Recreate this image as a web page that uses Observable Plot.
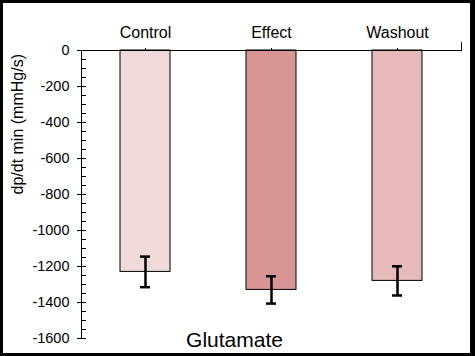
<!DOCTYPE html>
<html>
<head>
<meta charset="utf-8">
<script src="https://cdn.jsdelivr.net/npm/d3@7"></script>
<script src="https://cdn.jsdelivr.net/npm/@observablehq/plot@0.6"></script>
<style>
  html, body { margin: 0; padding: 0; background: white; }
  #frame {
    width: 475px; height: 356px; box-sizing: border-box;
    border-style: solid; border-color: black;
    border-width: 3px 5px 3px 3px;
    background: white; overflow: hidden;
  }
  #frame svg { display: block; }
</style>
</head>
<body>
<div id="frame"></div>
<script>
const categories = ["Control", "Effect", "Washout"];
const means = [-1230, -1330, -1280];
const errors = [85, 76, 81];
const colors = ["#efd9d9", "#d79595", "#e6baba"];
const majorTicks = [0, -200, -400, -600, -800, -1000, -1200, -1400, -1600];
const minorTicks = d3.range(0, -1601, -50).filter(v => v % 200 !== 0);
const yLabel = "dp/dt min (mmHg/s)";
const groupLabel = "Glutamate";

const data = categories.map((c, i) => ({cat: c, value: means[i], err: errors[i], color: colors[i]}));

const font = "Arial, 'Liberation Sans', sans-serif";
const lineShape = {draw(context, l) { context.moveTo(0, 0); context.lineTo(0, -l); }};

const chart = Plot.plot({
  width: 467,
  height: 350,
  marginLeft: 78,
  marginRight: 9,
  marginTop: 47,
  marginBottom: 15,
  style: {fontFamily: font, background: "white", color: "black"},
  x: {domain: categories, paddingInner: 0.6, paddingOuter: 0.3, axis: null},
  y: {domain: [-1600, 0], axis: null},
  color: {type: "identity"},
  marks: [
    Plot.barY(data, {x: "cat", y: "value", fill: "color", stroke: "black", strokeWidth: 1}),
    Plot.ruleX(data, {x: "cat", y1: d => d.value - d.err, y2: d => d.value + d.err, stroke: "black", strokeWidth: 2.5}),
    Plot.tickY(data, {x: "cat", y: d => d.value - d.err, inset: 20, stroke: "black", strokeWidth: 2.5}),
    Plot.tickY(data, {x: "cat", y: d => d.value + d.err, inset: 20, stroke: "black", strokeWidth: 2.5}),
    Plot.frame({anchor: "left", stroke: "black"}),
    Plot.frame({anchor: "top", stroke: "black"}),
    Plot.axisY({ticks: majorTicks, tickSize: 9, dx: 5, fill: "none", label: null, stroke: "black"}),
    Plot.axisY({ticks: minorTicks, tickSize: 5, dx: 5, fill: "none", label: null, stroke: "black"}),
    Plot.axisY({ticks: majorTicks, tickSize: 0, tickPadding: 12, tickFormat: d => String(d), fontSize: 14.5, label: null, fill: "black"}),
    Plot.axisX({anchor: "top", tickSize: 3, tickPadding: 10, fontSize: 16, label: null, fill: "black", stroke: "black"}),
    Plot.vector([0], {frameAnchor: "top-right", length: 8, anchor: "start", shape: lineShape, stroke: "black", strokeWidth: 1}),
    Plot.text([yLabel], {text: d => d, frameAnchor: "left", rotate: -90, lineAnchor: "bottom", dx: -59, fontSize: 16, fill: "black"}),
    Plot.text([groupLabel], {text: d => d, frameAnchor: "bottom", lineAnchor: "bottom", dx: -37, dy: 8, fontSize: 21, fill: "black"})
  ]
});
document.getElementById("frame").appendChild(chart);
</script>
</body>
</html>
